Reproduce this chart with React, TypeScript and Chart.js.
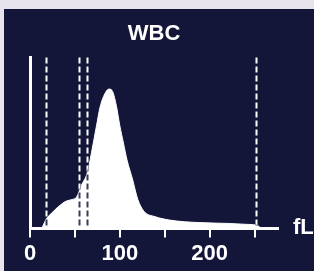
import React, { useEffect, useRef } from "react";
import { Chart, registerables } from "chart.js";

Chart.register(...registerables);

const titleText = "WBC";
const unitLabel = "fL";
const sizeFL = [13, 18, 25, 32, 40, 47, 52, 57, 64, 69, 74, 78, 84, 88, 92, 96, 100, 104, 108, 114, 120, 127, 139, 155, 172, 189, 205, 222, 240, 252, 258];
const counts = [0, 5.5, 9.5, 13, 16, 17, 18.5, 25, 33, 46, 60, 71, 79.5, 81.5, 80, 72, 60, 50, 40, 29, 17, 10, 7, 5, 4, 3.5, 3.2, 3, 2.5, 2, 0];
const tickValues = [0, 50, 100, 150, 200, 250];
const labeledTicks = [0, 100, 200];
const markerLines = [18, 54, 63, 252];

export default function App() {
  const ref = useRef<HTMLCanvasElement | null>(null);
  useEffect(() => {
    if (!ref.current) return;
    const markers = {
      id: "markers",
      afterDatasetsDraw(chart: any) {
        const { ctx, chartArea, scales } = chart;
        const xs = scales.x;
        const ys = scales.y;
        const drawDash = (color: string, op: string) => {
          ctx.save();
          ctx.globalCompositeOperation = op;
          ctx.strokeStyle = color;
          ctx.lineWidth = 2;
          ctx.setLineDash([6, 3]);
          markerLines.forEach((v) => {
            const px = Math.round(xs.getPixelForValue(v)) + 0.5;
            ctx.beginPath();
            ctx.moveTo(px, ys.getPixelForValue(100));
            ctx.lineTo(px, chartArea.bottom);
            ctx.stroke();
          });
          ctx.restore();
        };
        drawDash("#3a3c56", "source-atop");
        drawDash("#ffffff", "destination-over");
        ctx.save();
        ctx.fillStyle = "#ffffff";
        ctx.font = "bold 22px 'Liberation Sans'";
        ctx.textBaseline = "middle";
        ctx.textAlign = "left";
        ctx.fillText(unitLabel, chartArea.right + 15, chartArea.bottom - 1);
        ctx.restore();
      },
    };
    const chart = new Chart(ref.current, {
      type: "line",
      data: {
        datasets: [
          {
            data: sizeFL.map((x, i) => ({ x, y: counts[i] })),
            borderColor: "#ffffff",
            backgroundColor: "#ffffff",
            borderWidth: 1,
            fill: "origin",
            cubicInterpolationMode: "monotone",
            pointRadius: 0,
          },
        ],
      },
      options: {
        animation: false,
        responsive: false,
        layout: { padding: { left: 30, right: 36, top: 0, bottom: 1 } },
        plugins: {
          legend: { display: false },
          tooltip: { enabled: false },
          title: {
            display: true,
            text: titleText,
            color: "#ffffff",
            font: { family: "'Liberation Sans'", size: 22, weight: "bold" },
            padding: { top: 21, bottom: 10 },
          },
        },
        scales: {
          x: {
            type: "linear",
            min: 0,
            max: 276,
            afterBuildTicks: (scale: any) => {
              scale.ticks = tickValues.map((v) => ({ value: v }));
            },
            ticks: {
              color: "#ffffff",
              font: { family: "'Liberation Sans'", size: 22, weight: "bold" },
              padding: 3,
              maxRotation: 0,
              autoSkip: false,
              callback: (v: any) => (labeledTicks.includes(Number(v)) ? String(v) : ""),
            },
            grid: {
              display: true,
              drawOnChartArea: false,
              drawTicks: true,
              tickLength: 9,
              color: "#ffffff",
              lineWidth: 2,
            },
            border: { display: true, color: "#ffffff", width: 3 },
          },
          y: {
            min: 0,
            max: 100,
            ticks: { display: false },
            grid: { display: false, drawTicks: false },
            border: { display: true, color: "#ffffff", width: 3 },
          },
        },
      },
      plugins: [markers],
    });
    return () => chart.destroy();
  }, []);
  return (
    <div style={{ position: "fixed", left: 0, top: 0, width: 314, height: 271, background: "#e7e4ee" }}>
      <div style={{ position: "absolute", left: 4, top: 9, right: 0, bottom: 0, background: "#131639" }} />
      <canvas ref={ref} width={314} height={271} style={{ position: "absolute", left: 0, top: 0, width: 314, height: 271 }} />
    </div>
  );
}
